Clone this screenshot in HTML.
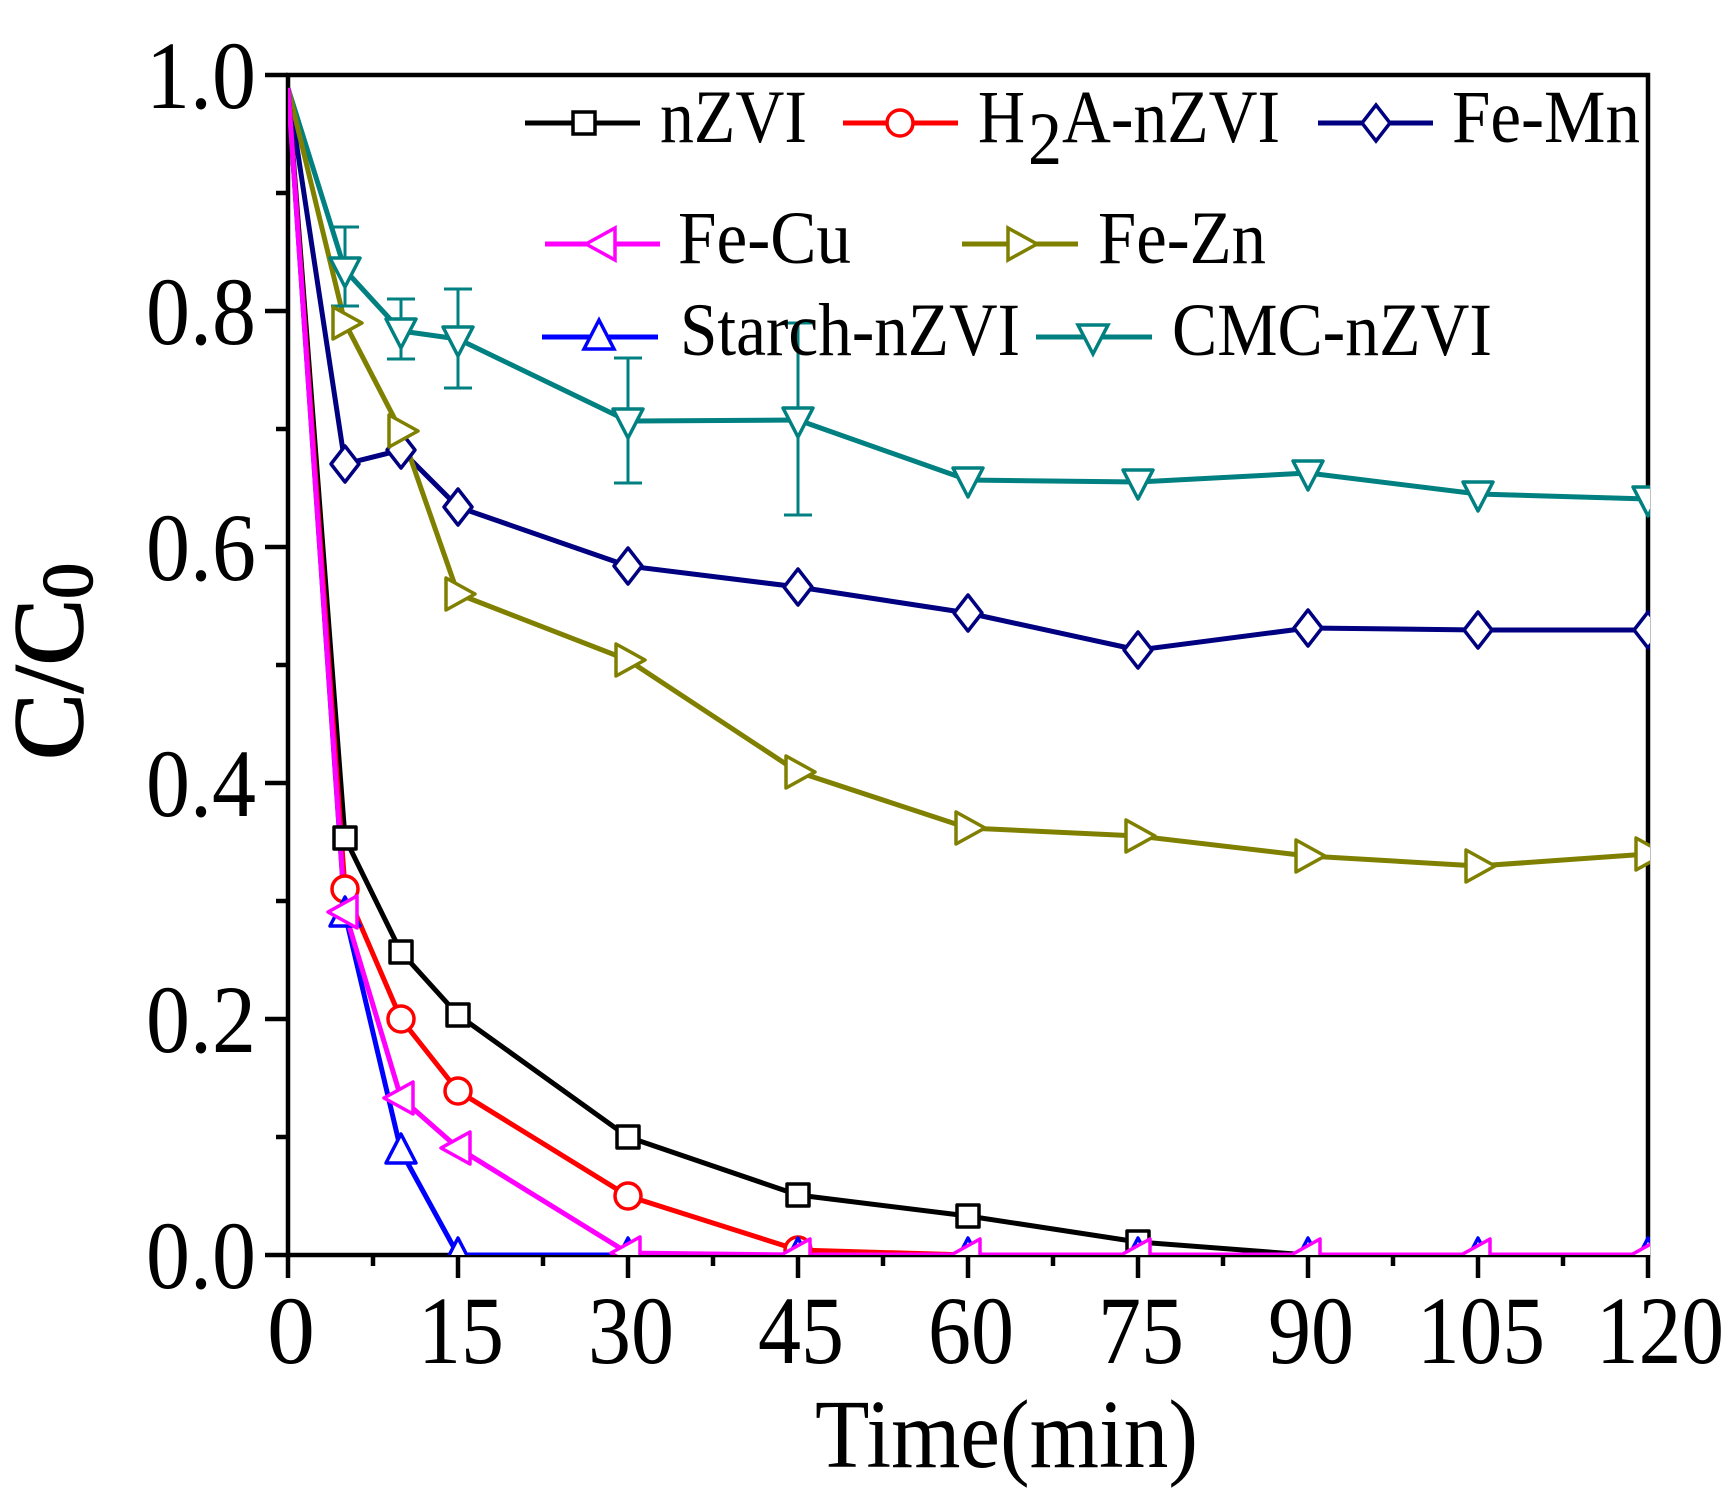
<!DOCTYPE html>
<html><head><meta charset="utf-8"><style>
html,body{margin:0;padding:0;background:#fff;}
svg{display:block;}
text{font-family:"Liberation Serif",serif;fill:#000;}
</style></head><body>
<svg width="1729" height="1507" viewBox="0 0 1729 1507" xmlns="http://www.w3.org/2000/svg">
<defs>
<clipPath id="pc"><rect x="288" y="60" width="1362" height="1195"/></clipPath>
<g id="sq"><rect x="-11" y="-11" width="22" height="22" fill="#fff" stroke="#000" stroke-width="3.5"/></g>
<g id="ci"><circle r="13" fill="#fff" stroke="#f00" stroke-width="3.5"/></g>
<g id="di"><polygon points="0,-18 14,0 0,18 -14,0" fill="#fff" stroke="#000080" stroke-width="3.5"/></g>
<g id="lt"><polygon points="-17,0 12,-16 12,16" fill="#fff" stroke="#f0f" stroke-width="3.5"/></g>
<g id="rt"><polygon points="17,0 -12,-16 -12,16" fill="#fff" stroke="#808000" stroke-width="3.5"/></g>
<g id="ut"><polygon points="0,-17 15,12 -15,12" fill="#fff" stroke="#00f" stroke-width="3.5"/></g>
<g id="dt"><polygon points="0,17 15,-12 -15,-12" fill="#fff" stroke="#008080" stroke-width="3.5"/></g>
</defs>

<rect x="288" y="75" width="1360" height="1180" fill="none" stroke="#000" stroke-width="4.5"/>
<g stroke="#000" stroke-width="4.5">
<line x1="265" y1="75" x2="288" y2="75"/><line x1="265" y1="311" x2="288" y2="311"/><line x1="265" y1="547" x2="288" y2="547"/><line x1="265" y1="783" x2="288" y2="783"/><line x1="265" y1="1019" x2="288" y2="1019"/><line x1="265" y1="1255" x2="288" y2="1255"/>
<line x1="276" y1="193" x2="288" y2="193"/><line x1="276" y1="429" x2="288" y2="429"/><line x1="276" y1="665" x2="288" y2="665"/><line x1="276" y1="901" x2="288" y2="901"/><line x1="276" y1="1137" x2="288" y2="1137"/>
<line x1="288" y1="1255" x2="288" y2="1278"/><line x1="458" y1="1255" x2="458" y2="1278"/><line x1="628" y1="1255" x2="628" y2="1278"/><line x1="798" y1="1255" x2="798" y2="1278"/><line x1="968" y1="1255" x2="968" y2="1278"/><line x1="1138" y1="1255" x2="1138" y2="1278"/><line x1="1308" y1="1255" x2="1308" y2="1278"/><line x1="1478" y1="1255" x2="1478" y2="1278"/><line x1="1648" y1="1255" x2="1648" y2="1278"/>
<line x1="373" y1="1255" x2="373" y2="1266"/><line x1="543" y1="1255" x2="543" y2="1266"/><line x1="713" y1="1255" x2="713" y2="1266"/><line x1="883" y1="1255" x2="883" y2="1266"/><line x1="1053" y1="1255" x2="1053" y2="1266"/><line x1="1223" y1="1255" x2="1223" y2="1266"/><line x1="1393" y1="1255" x2="1393" y2="1266"/><line x1="1563" y1="1255" x2="1563" y2="1266"/>
</g>

<g font-size="96" text-anchor="end">
<text x="256" y="108" textLength="110" lengthAdjust="spacingAndGlyphs">1.0</text>
<text x="256" y="344" textLength="110" lengthAdjust="spacingAndGlyphs">0.8</text>
<text x="256" y="580" textLength="110" lengthAdjust="spacingAndGlyphs">0.6</text>
<text x="256" y="816" textLength="110" lengthAdjust="spacingAndGlyphs">0.4</text>
<text x="256" y="1052" textLength="110" lengthAdjust="spacingAndGlyphs">0.2</text>
<text x="256" y="1288" textLength="110" lengthAdjust="spacingAndGlyphs">0.0</text>
</g>
<g font-size="96" text-anchor="middle">
<text x="291" y="1363">0</text>
<text x="461" y="1363" textLength="86" lengthAdjust="spacingAndGlyphs">15</text>
<text x="631" y="1363" textLength="86" lengthAdjust="spacingAndGlyphs">30</text>
<text x="801" y="1363" textLength="86" lengthAdjust="spacingAndGlyphs">45</text>
<text x="971" y="1363" textLength="86" lengthAdjust="spacingAndGlyphs">60</text>
<text x="1141" y="1363" textLength="86" lengthAdjust="spacingAndGlyphs">75</text>
<text x="1311" y="1363" textLength="86" lengthAdjust="spacingAndGlyphs">90</text>
<text x="1481" y="1363" textLength="128" lengthAdjust="spacingAndGlyphs">105</text>
<text x="1660" y="1363" textLength="128" lengthAdjust="spacingAndGlyphs">120</text>
</g>
<text x="815" y="1467" font-size="98" textLength="383" lengthAdjust="spacingAndGlyphs">Time(min)</text>
<text transform="translate(82,760) rotate(-90)" font-size="100" stroke="#000" stroke-width="1.5">C/C<tspan font-size="72" dy="10">0</tspan></text>

<g clip-path="url(#pc)" fill="none" stroke-width="5" stroke-linejoin="round">
<polyline stroke="#008080" points="288,88 345,270 401,331 458,339 628,421 798,420 968,480 1138,482 1308,473 1478,494 1648,499"/>
<polyline stroke="#000080" points="288,88 345,464 401,450 458,507 628,566 798,587 968,613 1138,650 1308,628 1478,630 1648,630"/>
<polyline stroke="#808000" points="288,88 345,323 401,431 458,594 628,660 798,772 968,828 1138,836 1308,856 1478,866 1648,854"/>
<polyline stroke="#000" points="288,88 345,838 401,952 458,1015 628,1137 798,1195 968,1216 1138,1242 1308,1255 1478,1255 1648,1255"/>
<polyline stroke="#f00" points="288,88 345,889 401,1019 458,1091 628,1196 798,1250 968,1255 1138,1255 1308,1255 1478,1255 1648,1255"/>
<polyline stroke="#00f" points="288,88 345,914 401,1151 458,1255 628,1255 798,1255 968,1255 1138,1255 1308,1255 1478,1255 1648,1255"/>
<polyline stroke="#f0f" points="288,88 345,912 401,1098 458,1148 628,1253 798,1255 968,1255 1138,1255 1308,1255 1478,1255 1648,1255"/>
<g stroke="#008080" stroke-width="3">
<path d="M345,227V306M331,227H359M331,306H359"/>
<path d="M401,299V359M387,299H415M387,359H415"/>
<path d="M458,289V388M444,289H472M444,388H472"/>
<path d="M628,358V483M614,358H642M614,483H642"/>
<path d="M798,323V515M784,323H812M784,515H812"/>
</g>
<use href="#dt" x="345" y="270"/><use href="#dt" x="401" y="331"/><use href="#dt" x="458" y="339"/><use href="#dt" x="628" y="421"/><use href="#dt" x="798" y="420"/><use href="#dt" x="968" y="480"/><use href="#dt" x="1138" y="482"/><use href="#dt" x="1308" y="473"/><use href="#dt" x="1478" y="494"/><use href="#dt" x="1648" y="499"/>
<use href="#di" x="345" y="464"/><use href="#di" x="401" y="450"/><use href="#di" x="458" y="507"/><use href="#di" x="628" y="566"/><use href="#di" x="798" y="587"/><use href="#di" x="968" y="613"/><use href="#di" x="1138" y="650"/><use href="#di" x="1308" y="628"/><use href="#di" x="1478" y="630"/><use href="#di" x="1648" y="630"/>
<use href="#rt" x="345" y="323"/><use href="#rt" x="401" y="431"/><use href="#rt" x="458" y="594"/><use href="#rt" x="628" y="660"/><use href="#rt" x="798" y="772"/><use href="#rt" x="968" y="828"/><use href="#rt" x="1138" y="836"/><use href="#rt" x="1308" y="856"/><use href="#rt" x="1478" y="866"/><use href="#rt" x="1648" y="854"/>
<use href="#sq" x="345" y="838"/><use href="#sq" x="401" y="952"/><use href="#sq" x="458" y="1015"/><use href="#sq" x="628" y="1137"/><use href="#sq" x="798" y="1195"/><use href="#sq" x="968" y="1216"/><use href="#sq" x="1138" y="1242"/>
<use href="#ci" x="345" y="889"/><use href="#ci" x="401" y="1019"/><use href="#ci" x="458" y="1091"/><use href="#ci" x="628" y="1196"/><use href="#ci" x="798" y="1250"/>
<use href="#ut" x="345" y="914"/><use href="#ut" x="401" y="1151"/><use href="#ut" x="458" y="1255"/><use href="#ut" x="628" y="1255"/><use href="#ut" x="798" y="1255"/><use href="#ut" x="968" y="1255"/><use href="#ut" x="1138" y="1255"/><use href="#ut" x="1308" y="1255"/><use href="#ut" x="1478" y="1255"/><use href="#ut" x="1648" y="1255"/>
<use href="#lt" x="345" y="912"/><use href="#lt" x="401" y="1098"/><use href="#lt" x="458" y="1148"/><use href="#lt" x="628" y="1253"/><use href="#lt" x="798" y="1255"/><use href="#lt" x="968" y="1255"/><use href="#lt" x="1138" y="1255"/><use href="#lt" x="1308" y="1255"/><use href="#lt" x="1478" y="1255"/><use href="#lt" x="1648" y="1255"/>
</g>

<g stroke-width="5">
<line x1="525" y1="123" x2="640" y2="123" stroke="#000"/><use href="#sq" x="584" y="123"/>
<line x1="843" y1="123" x2="958" y2="123" stroke="#f00"/><use href="#ci" x="900" y="123"/>
<line x1="1318" y1="123" x2="1433" y2="123" stroke="#000080"/><use href="#di" x="1376" y="123"/>
<line x1="545" y1="244" x2="660" y2="244" stroke="#f0f"/><use href="#lt" x="603" y="244"/>
<line x1="962" y1="244" x2="1078" y2="244" stroke="#808000"/><use href="#rt" x="1020" y="244"/>
<line x1="542" y1="337" x2="658" y2="337" stroke="#00f"/><use href="#ut" x="599" y="337"/>
<line x1="1036" y1="337" x2="1152" y2="337" stroke="#008080"/><use href="#dt" x="1093" y="337"/>
</g>
<g font-size="75">
<text x="660" y="142" textLength="147" lengthAdjust="spacingAndGlyphs">nZVI</text>
<text x="978" y="142" textLength="47" lengthAdjust="spacingAndGlyphs">H</text>
<text x="1028" y="164" textLength="34" lengthAdjust="spacingAndGlyphs">2</text>
<text x="1062" y="142" textLength="218" lengthAdjust="spacingAndGlyphs">A-nZVI</text>
<text x="1452" y="142" textLength="188" lengthAdjust="spacingAndGlyphs">Fe-Mn</text>
<text x="678" y="263" textLength="173" lengthAdjust="spacingAndGlyphs">Fe-Cu</text>
<text x="1098" y="263" textLength="168" lengthAdjust="spacingAndGlyphs">Fe-Zn</text>
<text x="680" y="355" textLength="340" lengthAdjust="spacingAndGlyphs">Starch-nZVI</text>
<text x="1172" y="355" textLength="320" lengthAdjust="spacingAndGlyphs">CMC-nZVI</text>
</g>
</svg>
</body></html>
